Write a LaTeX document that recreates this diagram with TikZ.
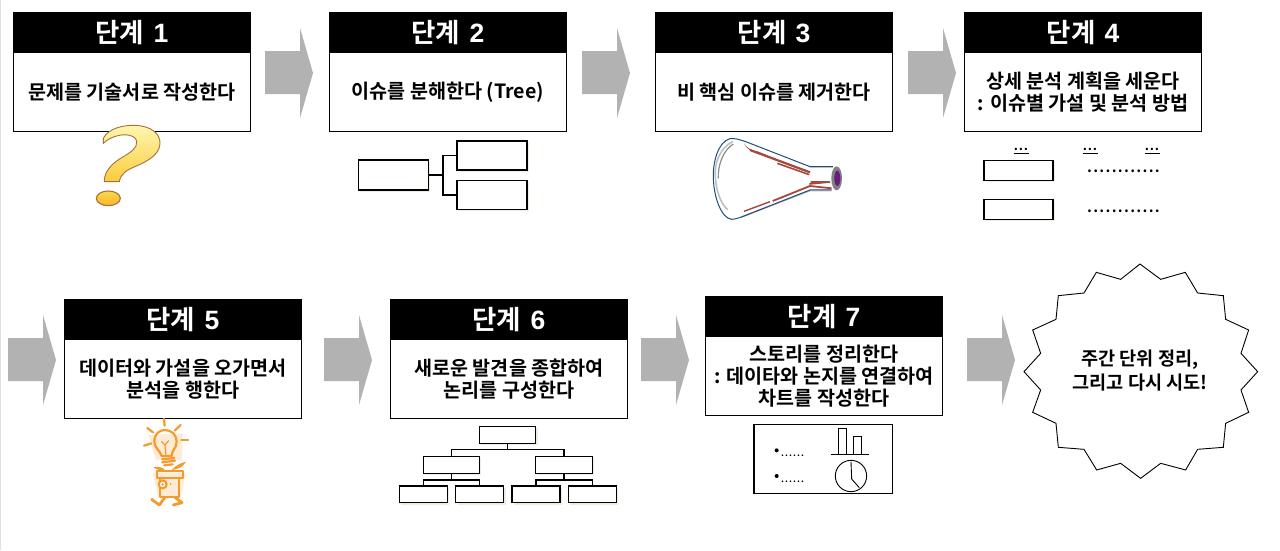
\documentclass[tikz,border=0pt]{standalone}
\usepackage{fontspec}
\setmainfont{Noto Sans CJK KR Bold}
\newfontfamily\latinbold{Liberation Sans Bold}
\usetikzlibrary{shadows,calc}
\definecolor{arrowgray}{HTML}{B2B2B2}
\definecolor{shadowcream}{HTML}{EFEDE0}
\definecolor{bulborange}{HTML}{F59A2C}
\definecolor{bulbpale}{HTML}{FDEBD6}
\definecolor{flasknavy}{HTML}{1F4E79}
\definecolor{flaskred}{HTML}{A5483E}
\definecolor{flaskpurple}{HTML}{6A1B82}
\definecolor{qyellow}{HTML}{F9D94A}
\definecolor{qpale}{HTML}{FDF7B0}
\definecolor{qedge}{HTML}{A8703C}
\tikzset{
  bodybox/.style={draw=black,line width=1.1pt,fill=white,outer sep=0pt,minimum width=237pt,minimum height=119pt,inner sep=0pt,anchor=north west},
  headbox/.style={draw=black,line width=1.1pt,fill=black,outer sep=0pt,text=white,font=\fontsize{26.5}{28}\selectfont,minimum width=237pt,minimum height=40pt,inner sep=0pt,anchor=north west},
  bodytext/.style={font=\fontsize{19.6}{22}\selectfont,align=center,text=black,inner sep=0pt},
  grayarrow/.style={fill=arrowgray,draw=none},
  minibox/.style={draw=black,line width=1.25pt,fill=white,outer sep=0pt,inner sep=0pt,copy shadow={shadow xshift=1.8pt,shadow yshift=-1.8pt,fill=shadowcream,draw=none}},
  link/.style={draw=black,line width=1.25pt},
  dotstext/.style={font=\fontsize{15}{15}\selectfont,inner sep=0pt,text=black},
  ray/.style={draw=bulborange,line width=2.2pt,line cap=round,line join=round},
}
\newcommand{\grayarr}[2]{%
  \fill[grayarrow] (#1,#2-22) -- (#1+35,#2-22) -- (#1+35,#2-45) -- (#1+48,#2) -- (#1+35,#2+45) -- (#1+35,#2+21) -- (#1,#2+21) -- cycle;}
\newcommand{\stepcard}[5]{% name,x,y,step,text
  \node[bodybox] (#1b) at (#2+0.5,#3+0.5) {};
  \node[headbox] (#1h) at (#2+0.5,#3+0.5) {\raisebox{-0.6pt}{단계\hspace{0.35em}{\latinbold #4}}};
  \node[bodytext] (#1t) at ($(#1b.center)+(0,20.5)$) {#5};}
\newcommand{\dotrun}[2]{\hbox to #1{\xleaders\hbox to #2{\hss.\hss}\hfill}}
\begin{document}
\begin{tikzpicture}[x=1pt,y=-1pt]
\useasboundingbox (0,0) rectangle (1280,550);
\fill[white] (0,0) rectangle (1280,550);
\fill[black!12] (0,0) rectangle (1.2,550);

% arrows
\grayarr{265}{73}\grayarr{582}{73}\grayarr{908}{73}
\grayarr{8}{360}\grayarr{324}{360}\grayarr{641}{360}\grayarr{967}{360}

% step cards
\stepcard{s1}{13}{12}{1}{문제를 기술서로 작성한다}
\stepcard{s2}{329}{12}{2}{이슈를 분해한다 (Tree)}
\stepcard{s3}{655}{12}{3}{비 핵심 이슈를 제거한다}
\stepcard{s4}{964}{12}{4}{상세 분석 계획을 세운다\\: 이슈별 가설 및 분석 방법}
\stepcard{s5}{64}{299}{5}{데이터와 가설을 오가면서\\분석을 행한다}
\stepcard{s6}{390}{299}{6}{새로운 발견을 종합하여\\논리를 구성한다}
\stepcard{s7}{705}{296}{7}{스토리를 정리한다\\: 데이타와 논지를 연결하여\\차트를 작성한다}

% question mark
\begin{scope}[x=0.3333pt,y=-0.3333pt]
  \shade[top color=qpale,bottom color=qyellow!85!orange,draw=qedge,line width=0.9pt]
    (310,415) .. controls (325,385) and (370,375) .. (405,376)
    .. controls (455,378) and (482,402) .. (480,432)
    .. controls (478,465) and (440,485) .. (405,500)
    .. controls (380,510) and (362,522) .. (358,545)
    -- (313,545) .. controls (312,515) and (335,490) .. (370,470)
    .. controls (395,455) and (412,443) .. (410,425)
    .. controls (408,405) and (375,400) .. (350,408)
    .. controls (335,412) and (320,420) .. (310,430) -- cycle;
  \shade[top color=qyellow,bottom color=qyellow!60!orange,draw=qedge,line width=1.1pt]
    (325,595) ellipse [x radius=36,y radius=22];
\end{scope}

% step 2 tree
\node[minibox,minimum width=70pt,minimum height=30pt] (t0) at (393.5,175) {};
\node[minibox,minimum width=70pt,minimum height=29pt] (t1) at (492,155.5) {};
\node[minibox,minimum width=70pt,minimum height=29pt] (t2) at (492,195) {};
\draw[link] (t0.east) -- (443,175);
\draw[link] (t1.west) -| (443,195) -- (t2.west);

% step 3 flask
\begin{scope}[shift={(650,120)},x=0.3333pt,y=-0.3333pt]
  \draw[black!25,line width=1.6pt,line cap=round] (247,65) .. controls (210,85) and (190,130) .. (197,180) .. controls (200,215) and (212,250) .. (232,268);
  \draw[black!45,line width=1.2pt] (250,72) .. controls (220,90) and (203,135) .. (205,175);
  \draw[black!25,line width=1.6pt] (272,292) -- (480,212) -- (545,212);
  \draw[black!25,line width=1pt] (480,142) -- (550,142);
  \draw[flasknavy,line width=1pt,line join=round] (480,140) -- (290,66) .. controls (265,57) and (250,54) .. (240,56) .. controls (205,65) and (188,125) .. (190,175) .. controls (192,235) and (215,295) .. (245,298) .. controls (255,298) and (270,293) .. (290,285) -- (480,210) -- (545,210);
  \draw[flasknavy,line width=0.7pt] (480,140) -- (550,140);
  \fill[flaskred] (282,70) .. controls (290,88) and (305,95) .. (330,103) -- (482,160) -- (325,95) .. controls (305,92) and (292,85) .. (282,70) -- cycle;
  \draw[flaskred,line width=2.2pt] (300,90) -- (480,157);
  \draw[flaskred,line width=1.6pt] (382,130) -- (478,164);
  \draw[flaskred,line width=1.4pt] (282,274) -- (360,245);
  \draw[flaskred,line width=1.8pt] (368,243) -- (480,198) -- (545,205);
  \draw[flaskred,line width=1.6pt] (482,186) -- (540,186) -- (478,192);
  \fill[black!50] (560,175) ellipse [x radius=16,y radius=36];
  \fill[flaskpurple] (562,175) ellipse [x radius=9,y radius=23];
\end{scope}

% step 4 table
\node[minibox,minimum width=69pt,minimum height=20pt] (p1) at (1018.5,170.5) {};
\node[minibox,minimum width=69pt,minimum height=20pt] (p2) at (1018.5,209.5) {};
\foreach \n/\cx in {a/1021,b/1090,c/1152}{
  \node[dotstext,font=\fontsize{13}{13}\selectfont] (h\n) at (\cx,149) {\dotrun{15pt}{5pt}};
  \draw[black,line width=1pt] (\cx-7.5,153.5) -- (\cx+7.5,153.5);
}
\node[dotstext] (r1) at (1123.5,171.5) {\dotrun{74pt}{6.15pt}};
\node[dotstext] (r2) at (1123.5,211.5) {\dotrun{74pt}{6.15pt}};

% step 5 bulb walker
\begin{scope}[shift={(120,410)},x=0.3333pt,y=-0.3333pt]
  \fill[bulbpale] (85,75) -- (188,70) -- (185,150) -- (108,150) -- cycle;
  \fill[bulbpale] (98,188) -- (198,188) -- (182,262) -- (115,262) -- cycle;
  \draw[ray] (132,26) -- (134,47);
  \draw[ray] (82,54) -- (99,67);
  \draw[ray] (182,45) -- (164,62);
  \draw[ray] (72,107) -- (94,100);
  \draw[ray] (184,89) -- (204,89);
  \draw[ray] (125,138) .. controls (120,120) and (103,115) .. (103,95) .. controls (103,70) and (120,60) .. (135,60) .. controls (155,60) and (170,75) .. (170,95) .. controls (170,115) and (155,120) .. (155,138) -- cycle;
  \draw[ray,line width=1.2pt] (125,95) -- (135,105) -- (146,92) (135,105) -- (138,138);
  \draw[ray] (127,148) -- (163,144) (127,157) -- (165,152) (133,166) -- (158,163);
  \fill[bulborange] (100,172) .. controls (115,168) and (128,172) .. (135,180) .. controls (122,182) and (110,180) .. (100,172) -- cycle;
  \fill[bulborange] (198,155) .. controls (185,158) and (168,165) .. (155,180) .. controls (175,178) and (190,170) .. (198,155) -- cycle;
  \draw[ray] (112,184) rectangle (190,205);
  \draw[ray] (119,205) -- (119,262) -- (176,262) -- (176,205);
  \draw[ray,fill=white] (128,223) circle [radius=12];
  \fill[bulborange] (128,223) circle [radius=4];
  \fill[bulborange] (152,222) circle [radius=3];
  \draw[ray,line width=2.8pt] (135,262) -- (118,285) -- (95,268);
  \draw[ray,line width=2.8pt] (165,262) -- (186,278) -- (160,285);
\end{scope}

% step 6 tree
\node[minibox,minimum width=56.5pt,minimum height=16.8pt] (m0) at (507.5,435) {};
\node[minibox,minimum width=56pt,minimum height=16.8pt] (m1) at (451.3,465) {};
\node[minibox,minimum width=56.5pt,minimum height=16.8pt] (m2) at (564,465) {};
\node[minibox,minimum width=48pt,minimum height=16.8pt] (l1) at (423.3,494.3) {};
\node[minibox,minimum width=48pt,minimum height=16.8pt] (l2) at (479.7,494.3) {};
\node[minibox,minimum width=48pt,minimum height=16.8pt] (l3) at (536,494.3) {};
\node[minibox,minimum width=48pt,minimum height=16.8pt] (l4) at (592.5,494.3) {};
\draw[link] (m0.south) -- (507.5,449.3);
\draw[link] (m1.north) |- (507.5,449.3) -| (m2.north);
\draw[link] (m1.south) -- (451.3,480);
\draw[link] (l1.north) |- (451.3,480) -| (l2.north);
\draw[link] (m2.south) -- (564,480);
\draw[link] (l3.north) |- (564,480) -| (l4.north);

% step 7 chart
\begin{scope}[shift={(740,415)},x=0.3333pt,y=-0.3333pt]
  \draw[black,line width=1.1pt,fill=white] (42,28) rectangle (458,236);
  \draw[black,line width=0.9pt] (296,117) -- (296,40) -- (320,40) -- (320,117);
  \draw[black,line width=0.9pt] (341,117) -- (341,65) -- (364,65) -- (364,117);
  \draw[black,line width=0.9pt] (273,117) -- (387,117);
  \draw[black,line width=0.9pt] (333,183) circle [radius=47];
  \draw[black,line width=0.9pt] (333,140) -- (335,192) -- (358,218);
  \fill[black] (110,106) circle [radius=6];
  \fill[black] (110,183) circle [radius=6];
\end{scope}
\node[dotstext,font=\fontsize{9}{9}\selectfont] (b1) at (792.5,455.5) {\dotrun{24pt}{4pt}};
\node[dotstext,font=\fontsize{9}{9}\selectfont] (b2) at (792.5,481.5) {\dotrun{24pt}{4pt}};

% burst
\begin{scope}[shift={(1010,250)},x=0.3333pt,y=-0.3333pt]
  \draw[black,line width=0.9pt,fill=white,line join=miter]
  (390,42)--(452,88)--(526,67)--(563,129)--(640,137)--(647,208)--(716,240)--(693,310)--(743,365)--(693,420)--(716,487)--(647,520)--(640,592)--(563,598)--(527,660)--(452,640)--(392,685)--(332,640)--(260,660)--(222,598)--(145,592)--(138,520)--(68,487)--(92,420)--(42,365)--(92,310)--(68,240)--(138,208)--(145,137)--(222,129)--(259,67)--(332,88)--cycle;
\end{scope}
\node[bodytext,font=\fontsize{18.6}{24}\selectfont] (burst) at (1140,371) {주간 단위 정리,\\그리고 다시 시도!};
\end{tikzpicture}
\end{document}
